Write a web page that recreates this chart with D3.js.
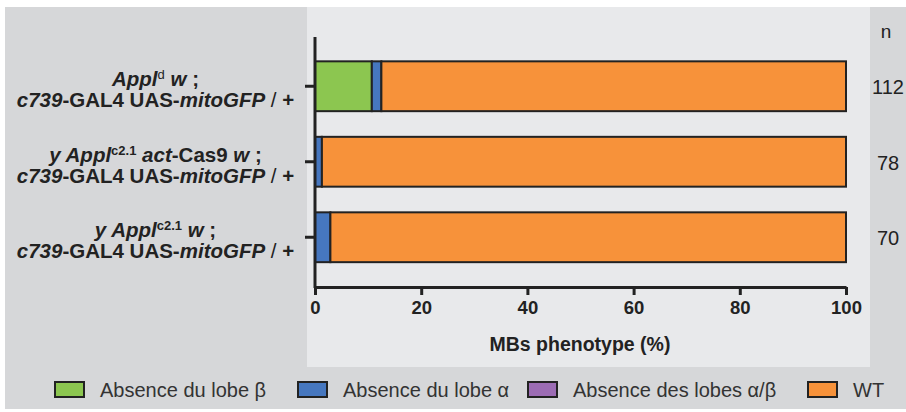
<!DOCTYPE html>
<html lang="en">
<head>
  <meta charset="UTF-8">
  <title>MBs phenotype</title>
  <script src="https://d3js.org/d3.v7.min.js"></script>
  <style>
    body { margin: 0; background: #fff; }
    svg { display: block; font-family: "Liberation Sans", Arial, sans-serif; }
  </style>
</head>
<body>
  <svg id="chart" width="906" height="412"></svg>
  <script>
    // Data
    const genotypes = ['g1', 'g2', 'g3'];
    const categories = ['Absence du lobe β', 'Absence du lobe α', 'Absence des lobes α/β', 'WT'];
    const colors = ['#8cc650', '#4677bf', '#9c6cb4', '#f7923a'];
    const lobeBeta = [10.7, 0, 0];
    const lobeAlpha = [1.8, 1.3, 2.9];
    const lobesAlphaBeta = [0, 0, 0];
    const wt = [87.5, 98.7, 97.1];
    const nValues = ['112', '78', '70'];
    const xTicks = [0, 20, 40, 60, 80, 100];

    // label parts: [text, italic, superscript, bold]
    const labelLines = [
      [
        [['Appl', 1, 0, 1], ['d', 0, 1, 0], [' w', 1, 0, 1], [' ;', 0, 0, 1]],
        [['c739', 1, 0, 1], ['-GAL4 UAS-', 0, 0, 1], ['mitoGFP', 1, 0, 1], [' / ', 0, 0, 0], ['+', 0, 0, 1]]
      ],
      [
        [['y Appl', 1, 0, 1], ['c2.1', 0, 1, 1], [' act', 1, 0, 1], ['-Cas9 ', 0, 0, 1], ['w', 1, 0, 1], [' ;', 0, 0, 1]],
        [['c739', 1, 0, 1], ['-GAL4 UAS-', 0, 0, 1], ['mitoGFP', 1, 0, 1], [' / ', 0, 0, 0], ['+', 0, 0, 1]]
      ],
      [
        [['y Appl', 1, 0, 1], ['c2.1', 0, 1, 1], [' w', 1, 0, 1], [' ;', 0, 0, 1]],
        [['c739', 1, 0, 1], ['-GAL4 UAS-', 0, 0, 1], ['mitoGFP', 1, 0, 1], [' / ', 0, 0, 0], ['+', 0, 0, 1]]
      ]
    ];

    const svg = d3.select('#chart');

    // backgrounds
    svg.append('rect').attr('x', 5).attr('y', 7).attr('width', 901).attr('height', 402).attr('fill', '#d6d7d9');
    svg.append('rect').attr('x', 307).attr('y', 7).attr('width', 563).attr('height', 360).attr('fill', '#e8e9eb');

    const x = d3.scaleLinear().domain([0, 100]).range([315, 846]);
    const y = d3.scaleBand().domain(genotypes).range([48.5, 275]).paddingInner(0.34).paddingOuter(0.17);

    // stacked data
    const rows = genotypes.map((g, i) => ({ g, vals: [lobeBeta[i], lobeAlpha[i], lobesAlphaBeta[i], wt[i]] }));
    const stack = d3.stack().keys([0, 1, 2, 3]).value((d, k) => d.vals[k]);
    const series = stack(rows);

    svg.append('g').selectAll('g')
      .data(series)
      .join('g')
      .attr('fill', (d, i) => colors[i])
      .selectAll('rect')
      .data(d => d.filter(s => s[1] - s[0] > 0))
      .join('rect')
      .attr('x', d => x(d[0]))
      .attr('y', d => y(d.data.g))
      .attr('width', d => x(d[1]) - x(d[0]))
      .attr('height', y.bandwidth())
      .attr('stroke', '#222')
      .attr('stroke-width', 2);

    // x axis
    const xAxis = svg.append('g')
      .attr('transform', 'translate(0,287)')
      .call(d3.axisBottom(x).tickValues(xTicks).tickSize(8).tickSizeOuter(0));
    xAxis.select('.domain').attr('stroke', '#222').attr('stroke-width', 3);
    xAxis.selectAll('.tick line').attr('stroke', '#222').attr('stroke-width', 3);
    xAxis.selectAll('.tick text')
      .attr('y', 27)
      .attr('dy', null)
      .attr('fill', '#222')
      .style('font-size', '18.5px')
      .style('font-weight', 'bold');

    // y axis
    const yAxis = svg.append('g')
      .attr('transform', 'translate(315,0)')
      .call(d3.axisLeft(y).tickSize(10).tickSizeOuter(0).tickFormat(''));
    yAxis.select('.domain').attr('d', 'M0,37V288').attr('stroke', '#222').attr('stroke-width', 3);
    yAxis.selectAll('.tick line').attr('stroke', '#222').attr('stroke-width', 3);

    // axis title
    svg.append('text')
      .attr('x', 580)
      .attr('y', 351)
      .attr('text-anchor', 'middle')
      .attr('fill', '#222')
      .style('font-size', '19.5px')
      .style('font-weight', 'bold')
      .text('MBs phenotype (%)');

    // genotype labels
    genotypes.forEach((g, i) => {
      const cy = y(g) + y.bandwidth() / 2;
      labelLines[i].forEach((parts, li) => {
        const t = svg.append('text')
          .attr('x', 155.5)
          .attr('y', cy + li * 21)
          .attr('text-anchor', 'middle')
          .attr('fill', '#222')
          .style('font-size', '20.5px');
        let raised = false;
        parts.forEach(p => {
          const ts = t.append('tspan')
            .text(p[0])
            .style('font-style', p[1] ? 'italic' : 'normal')
            .style('font-weight', p[3] ? 'bold' : 'normal');
          if (p[2]) {
            ts.attr('dy', -7).style('font-size', '13px');
            raised = true;
          } else if (raised) {
            ts.attr('dy', 7);
            raised = false;
          }
        });
      });
    });

    // n column
    svg.append('text')
      .attr('x', 886).attr('y', 38)
      .attr('text-anchor', 'middle')
      .attr('fill', '#222')
      .style('font-size', '19px')
      .text('n');
    svg.append('g').selectAll('text')
      .data(genotypes)
      .join('text')
      .attr('x', 888)
      .attr('y', d => y(d) + y.bandwidth() / 2 + 8)
      .attr('text-anchor', 'middle')
      .attr('fill', '#222')
      .style('font-size', '20px')
      .text((d, i) => nValues[i]);

    // legend
    const legendX = [55, 298, 528, 808];
    const legend = svg.append('g').selectAll('g')
      .data(categories)
      .join('g')
      .attr('transform', (d, i) => `translate(${legendX[i]},382)`);
    legend.append('rect')
      .attr('width', 29).attr('height', 15)
      .attr('fill', (d, i) => colors[i])
      .attr('stroke', '#222')
      .attr('stroke-width', 2);
    legend.append('text')
      .attr('x', 45)
      .attr('y', 15)
      .attr('fill', '#333')
      .style('font-size', '20px')
      .text(d => d);
  </script>
</body>
</html>
